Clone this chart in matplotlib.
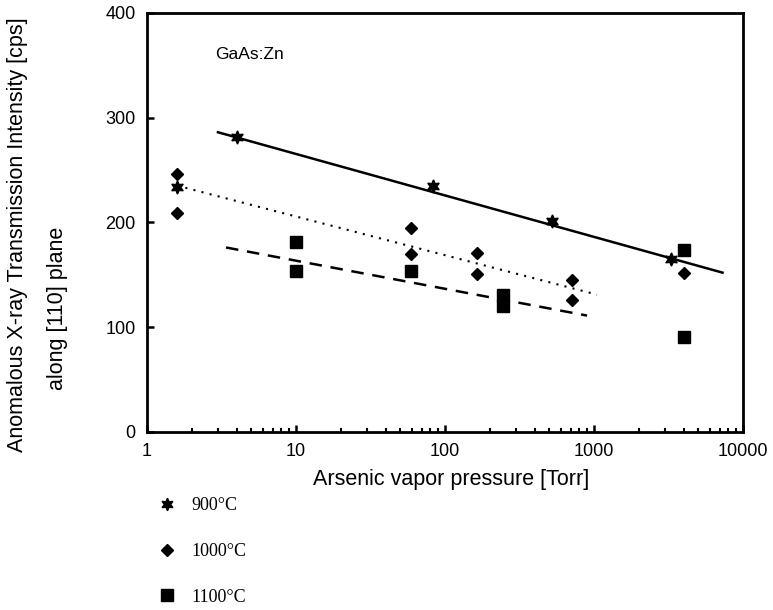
import matplotlib
matplotlib.use("Agg")
import matplotlib.pyplot as plt
from matplotlib.lines import Line2D

# data
p900 = [1.6, 4.0, 83, 520, 3300]
i900 = [234, 281, 235, 201, 165]
p1000 = [1.6, 1.6, 59, 59, 165, 165, 710, 710, 4000]
i1000 = [246, 209, 195, 170, 171, 151, 145, 126, 152]
p1100 = [10, 10, 59, 245, 245, 4000, 4000]
i1100 = [181, 154, 154, 131, 120, 174, 91]

# fitted lines (end points)
fit900_p = [3.0, 7300]
fit900_i = [286, 152]
fit1000_p = [1.6, 1050]
fit1000_i = [235, 131]
fit1100_p = [3.4, 900]
fit1100_i = [176, 111]

labels = ["900°C", "1000°C", "1100°C"]

plt.rcParams['font.family'] = ['Liberation Sans', 'DejaVu Sans']

fig = plt.figure(figsize=(7.73, 6.10), dpi=100)
ax = fig.add_axes([0.190, 0.292, 0.771, 0.687])

star = (6, 1, 0)
ax.plot(fit900_p, fit900_i, color='black', lw=1.8, ls='-')
ax.plot(fit1000_p, fit1000_i, color='black', lw=1.5, ls=(0, (1, 3)))
ax.plot(fit1100_p, fit1100_i, color='black', lw=1.8, ls=(0, (5, 3.5)))

ax.plot(p900, i900, ls='none', marker=star, ms=9.5, color='black')
ax.plot(p1000, i1000, ls='none', marker='D', ms=6.5, color='black')
ax.plot(p1100, i1100, ls='none', marker='s', ms=9, color='black')

ax.set_xscale('log')
ax.set_xlim(1, 10000)
ax.set_ylim(0, 400)
ax.set_yticks([0, 100, 200, 300, 400])
ax.set_xticks([1, 10, 100, 1000, 10000])
ax.set_xticklabels(["1", "10", "100", "1000", "10000"])

for s in ax.spines.values():
    s.set_linewidth(2)

ax.tick_params(axis='both', which='major', direction='in', length=5, width=1.8,
               labelsize=13, pad=8)
ax.tick_params(axis='x', which='minor', direction='in', length=3, width=1.5)
ax.tick_params(axis='y', which='minor', left=False)

ax.set_xlabel("Arsenic vapor pressure [Torr]", fontsize=15.5)
ax.xaxis.set_label_coords(0.51, -0.088)

fig.text(0.022, 0.616, "Anomalous X-ray Transmission Intensity [cps]",
         rotation=90, ha='center', va='center', fontsize=15.5)
fig.text(0.074, 0.494, "along [110] plane",
         rotation=90, ha='center', va='center', fontsize=15.5)

ax.text(0.115, 0.89, "GaAs:Zn", transform=ax.transAxes, fontsize=12.5)

handles = [
    Line2D([], [], ls='none', marker=star, ms=9, color='black'),
    Line2D([], [], ls='none', marker='D', ms=6.5, color='black'),
    Line2D([], [], ls='none', marker='s', ms=9, color='black'),
]
leg = fig.legend(handles, labels, loc='upper left', bbox_to_anchor=(0.193, 0.2),
                 frameon=False, prop={'family': 'Liberation Serif', 'size': 13},
                 labelspacing=1.6, handlelength=1.0, handletextpad=0.85,
                 borderpad=0)

fig.savefig("out.png", dpi=100)
